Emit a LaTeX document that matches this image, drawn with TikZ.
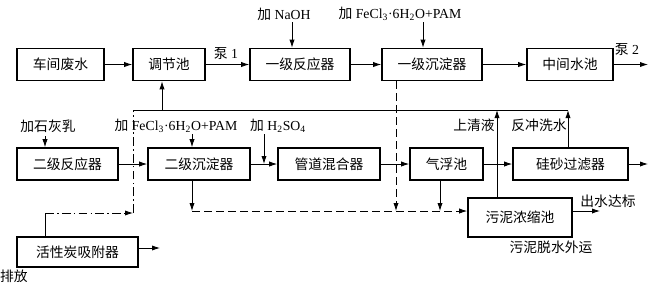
\documentclass[tikz,border=0pt]{standalone}
\usepackage{fontspec}
\setmainfont{Liberation Serif}
\newfontfamily\cjk{Noto Sans CJK SC}
\usetikzlibrary{arrows.meta}

\begin{document}
\begin{tikzpicture}[x=0.025cm,y=-0.025cm,
  every node/.style={font=\fontsize{9.8}{11}\selectfont},
  box/.style={draw,line width=1.1pt,minimum height=0.8cm,inner sep=0pt},
  flow/.style={-{Latex[length=2mm,width=1.3mm]},line width=0.6pt},
  pipe/.style={line width=0.6pt},
  sludge/.style={pipe,dash pattern=on 2mm off 1mm},
  backline/.style={pipe,dash pattern=on 2.2mm off 0.8mm on 0.4mm off 0.8mm}]
  \useasboundingbox (0,0) rectangle (655,284);
  % first line of units
  \node[box,minimum width=2.175cm] (ws) at (60.5,64.5) {\cjk 车间废水};
  \node[box,minimum width=1.8cm] (tj) at (169,64.5) {\cjk 调节池};
  \node[box,minimum width=2.5cm] (fy1) at (300,64.5) {\cjk 一级反应器};
  \node[box,minimum width=2.5cm] (cd1) at (432,64.5) {\cjk 一级沉淀器};
  \node[box,minimum width=2.15cm] (zj) at (570,64.5) {\cjk 中间水池};
  % second line of units
  \node[box,minimum width=2.525cm] (fy2) at (67.5,164) {\cjk 二级反应器};
  \node[box,minimum width=2.55cm] (cd2) at (199,164) {\cjk 二级沉淀器};
  \node[box,minimum width=2.55cm] (gd) at (329,164) {\cjk 管道混合器};
  \node[box,minimum width=1.825cm] (qf) at (446.5,164) {\cjk 气浮池};
  \node[box,minimum width=2.875cm] (gs) at (570.5,164) {\cjk 硅砂过滤器};
  \node[box,minimum width=2.6cm,minimum height=0.975cm] (wn) at (520,217.5) {\cjk 污泥浓缩池};
  \node[box,minimum width=3.025cm,minimum height=0.75cm] (hx) at (77.5,252) {\cjk 活性炭吸附器};
  % dosing and other texts
  \node (naoh) at (284,14) {{\cjk 加} NaOH};
  \node (fe1) at (400,14) {{\cjk 加} FeCl\textsubscript{3}·6H\textsubscript{2}O+PAM};
  \node (lime) at (48,126) {\cjk 加石灰乳};
  \node (fe2) at (176,126) {{\cjk 加} FeCl\textsubscript{3}·6H\textsubscript{2}O+PAM};
  \node (acid) at (278,126) {{\cjk 加} H\textsubscript{2}SO\textsubscript{4}};
  \node (pump1) at (226,54) {{\cjk 泵} 1};
  \node (pump2) at (627,50) {{\cjk 泵} 2};
  \node (sq) at (474,125) {\cjk 上清液};
  \node (fc) at (539,125) {\cjk 反冲洗水};
  \node (db) at (608,201) {\cjk 出水达标};
  \node (ws2) at (551,247) {\cjk 污泥脱水外运};
  \node (pf) at (14,276) {\cjk 排放};
  % points of the pipes
  \coordinate (a1) at (292,22); \coordinate (a2) at (423,22);
  \coordinate (a3) at (45,136); \coordinate (a4) at (192,134); \coordinate (a5) at (264,134);
  \coordinate (o1) at (648,64.5); \coordinate (o2) at (648,164);
  \coordinate (o3) at (600,211); \coordinate (o4) at (160,248);
  \coordinate (rL) at (133,110); \coordinate (rU) at (162,110);
  \coordinate (rS) at (497,110); \coordinate (rF) at (568,110);
  \coordinate (s1) at (192,211); \coordinate (s2) at (396,211); \coordinate (s3) at (440,211);
  \coordinate (h1) at (45,213); \coordinate (h2) at (133,213);
  % main flow
  \foreach \a/\b in {ws/tj,tj/fy1,fy1/cd1,cd1/zj,fy2/cd2,cd2/gd,gd/qf,qf/gs}
    \draw[flow] (\a.east) -- (\a.east -| \b.west);
  \draw[flow] (zj.east) -- (o1);
  \draw[flow] (gs.east) -- (o2);
  \draw[flow] (o3 -| wn.east) -- (o3);
  \draw[flow] (o4 -| hx.east) -- (o4);
  \draw[flow] (a1) -- (a1 |- fy1.north);
  \draw[flow] (a2) -- (a2 |- cd1.north);
  \draw[flow] (a3) -- (a3 |- fy2.north);
  \draw[flow] (a4) -- (a4 |- cd2.north);
  \draw[flow] (a5) -- (a5 |- cd2.east);
  % return water
  \draw[pipe] (rL) -- (rF);
  \draw[flow] (rU) -- (rU |- tj.south);
  \draw[flow] (rS |- wn.north) -- (rS);
  \draw[flow] (rF |- gs.north) -- (rF);
  \draw[pipe] (hx.north -| h1) -- (h1);
  \draw[backline,-{Latex[length=2mm,width=1.3mm]}] (h1) -- (h2);
  \draw[backline] (h2) -- (rL);
  % sludge
  \draw[flow] (s1 |- cd2.south) -- (s1);
  \draw[flow] (s3 |- qf.south) -- (s3);
  \draw[sludge,-{Latex[length=2mm,width=1.3mm]}] (s2 |- cd1.south) -- (s2);
  \draw[sludge,-{Latex[length=2mm,width=1.3mm]}] (s1) -- (s1 -| wn.west);
\end{tikzpicture}
\end{document}
